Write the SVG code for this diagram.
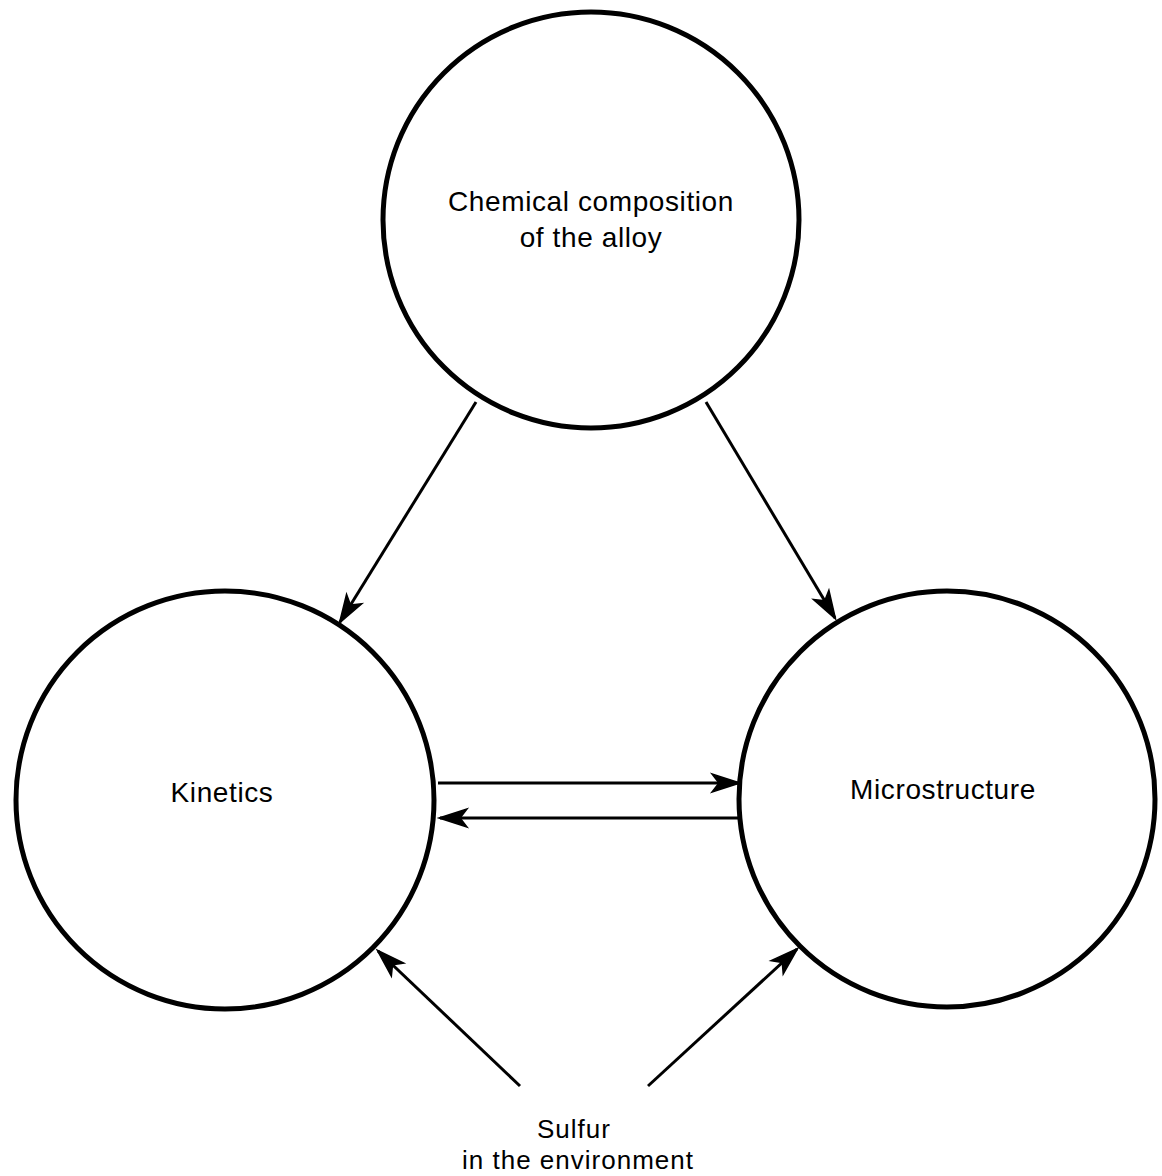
<svg xmlns="http://www.w3.org/2000/svg" width="1162" height="1176" viewBox="0 0 1162 1176">
<style>
.node circle{fill:none;stroke:#000;stroke-width:5}
.lbl{font-family:"Liberation Sans",Arial,sans-serif;font-size:28px;letter-spacing:0.6px;fill:#000;text-anchor:middle}
.sm{font-size:26px;letter-spacing:1px}
.conn line{stroke:#000;stroke-width:3;marker-end:url(#ah)}
</style>
<defs>
<marker id="ah" markerUnits="userSpaceOnUse" markerWidth="30" markerHeight="20" refX="27" refY="9" orient="auto" overflow="visible">
<path d="M0,0 L28,9 L0,18 L7,9 z" fill="#000" stroke="#000" stroke-width="1.5" stroke-linejoin="miter"/>
</marker>
</defs>
<rect width="1162" height="1176" fill="#fff"/>
<g id="chem" class="node">
<circle cx="591" cy="220" r="208"/>
<text class="lbl" x="591" y="211">Chemical composition</text>
<text class="lbl" x="591" y="247">of the alloy</text>
</g>
<g id="kinetics" class="node">
<circle cx="225" cy="800" r="209"/>
<text class="lbl" x="222" y="802">Kinetics</text>
</g>
<g id="micro" class="node">
<circle cx="947" cy="799" r="208"/>
<text class="lbl" x="943" y="799">Microstructure</text>
</g>
<g id="sulfur" class="node">
<text class="lbl sm" x="574" y="1138">Sulfur</text>
<text class="lbl sm" x="578" y="1169">in the environment</text>
</g>
<g id="connectors" class="conn">
<line x1="476" y1="402" x2="340" y2="622"/>
<line x1="706" y1="402" x2="835" y2="618"/>
<line x1="438" y1="783" x2="739" y2="783"/>
<line x1="739" y1="818" x2="440" y2="818"/>
<line x1="520" y1="1086" x2="378" y2="951"/>
<line x1="648" y1="1086" x2="797" y2="949"/>
</g>
</svg>
